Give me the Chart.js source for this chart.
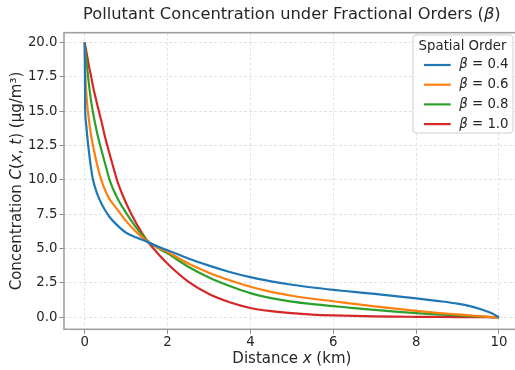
<!DOCTYPE html>
<html>
<head>
<meta charset="utf-8">
<script src="https://cdn.jsdelivr.net/npm/chart.js@4.4.1/dist/chart.umd.min.js"></script>
<style>
html,body{margin:0;padding:0;background:#fff;overflow:hidden;width:515px;height:370px;}
canvas{display:block;}
</style>
</head>
<body>
<canvas id="c" width="525" height="370" style="width:525px;height:370px"></canvas>
<script>
// ---- data ----
const distances = [0, 0.01, 0.03, 0.06, 0.1, 0.15, 0.2, 0.3, 0.4, 0.5, 0.6, 0.8, 1.0, 1.25, 1.5, 1.75, 2.0, 2.5, 3.0, 3.5, 4.0, 4.5, 5.0, 5.5, 6.0, 6.5, 7.0, 7.5, 8.0, 8.5, 9.0, 9.3, 9.6, 9.8, 9.9, 10];
const beta04 = [20, 15.3, 14.2, 13.2, 12.1, 10.9, 10.0, 9.0, 8.3, 7.75, 7.3, 6.65, 6.15, 5.8, 5.5, 5.17, 4.88, 4.28, 3.76, 3.3, 2.92, 2.62, 2.37, 2.17, 2.0, 1.85, 1.7, 1.54, 1.38, 1.2, 1.0, 0.82, 0.55, 0.33, 0.18, 0];
const beta06 = [20, 18.3, 16.8, 15.5, 14.4, 13.3, 12.5, 11.1, 10.0, 9.2, 8.6, 7.8, 7.0, 6.2, 5.55, 5.12, 4.75, 3.92, 3.25, 2.7, 2.22, 1.85, 1.57, 1.35, 1.17, 0.98, 0.8, 0.63, 0.47, 0.33, 0.21, 0.14, 0.07, 0.03, 0.015, 0];
const beta08 = [20, 19.6, 19.0, 18.1, 17.0, 15.8, 14.9, 13.4, 12.2, 11.1, 10.0, 8.6, 7.6, 6.5, 5.6, 5.08, 4.65, 3.68, 2.9, 2.28, 1.76, 1.4, 1.14, 0.96, 0.82, 0.67, 0.54, 0.42, 0.31, 0.22, 0.14, 0.09, 0.05, 0.02, 0.01, 0];
const beta10 = [20, 19.8, 19.5, 19.0, 18.3, 17.6, 16.8, 15.5, 14.3, 13.0, 11.9, 9.8, 8.3, 6.8, 5.6, 4.7, 3.9, 2.6, 1.7, 1.1, 0.68, 0.45, 0.3, 0.2, 0.14, 0.1, 0.07, 0.05, 0.04, 0.03, 0.02, 0.015, 0.01, 0.005, 0.002, 0];
const betaLabels = ['0.4', '0.6', '0.8', '1.0'];
const seriesColors = ['#1f77b4', '#ff7f0e', '#2ca02c', '#d62728'];
const xTicks = [0, 2, 4, 6, 8, 10];
const yTicks = [0, 2.5, 5, 7.5, 10, 12.5, 15, 17.5, 20];

const FONT = '"DejaVu Sans", "Liberation Sans", sans-serif';

function segFont(size, it) { return (it ? 'italic ' : '') + size + 'px ' + FONT; }
function drawRich(ctx, segs, x, y, size, align, rot, color) {
  ctx.save();
  ctx.translate(x, y);
  if (rot) ctx.rotate(rot);
  ctx.fillStyle = color || '#262626';
  ctx.textBaseline = 'middle';
  ctx.textAlign = 'left';
  let total = 0;
  const widths = segs.map(s => { ctx.font = segFont(size, s.it); const w = ctx.measureText(s.t).width; total += w; return w; });
  let cx = align === 'center' ? -total / 2 : (align === 'right' ? -total : 0);
  segs.forEach((s, i) => { ctx.font = segFont(size, s.it); ctx.fillText(s.t, cx, 0); cx += widths[i]; });
  ctx.restore();
  return total;
}

const series = [beta04, beta06, beta08, beta10];
const datasets = series.map((vals, i) => ({
  label: 'β = ' + betaLabels[i],
  data: distances.map((d, j) => ({x: d, y: vals[j]})),
  borderColor: seriesColors[i],
  backgroundColor: seriesColors[i],
  borderWidth: 2.2,
  pointRadius: 0,
  fill: false,
  cubicInterpolationMode: 'monotone'
}));

const decor = {
  id: 'decor',
  afterDatasetsDraw(chart) {
    const ctx = chart.ctx, a = chart.chartArea;
    ctx.save();
    ctx.strokeStyle = '#a0a0a0';
    ctx.lineWidth = 1.6;
    ctx.strokeRect(a.left, a.top, a.right - a.left, a.bottom - a.top);
    ctx.restore();
    drawRich(ctx, [{t: 'Pollutant Concentration under Fractional Orders (', it: false}, {t: 'β', it: true}, {t: ')', it: false}],
      (a.left + a.right) / 2, 15, 16.3, 'center', 0);
    drawRich(ctx, [{t: 'Distance ', it: false}, {t: 'x', it: true}, {t: ' (km)', it: false}],
      (a.left + a.right) / 2, 359, 15, 'center', 0);
    drawRich(ctx, [{t: 'Concentration ', it: false}, {t: 'C', it: true}, {t: '(', it: false}, {t: 'x', it: true}, {t: ', ', it: false}, {t: 't', it: true}, {t: ') (μg/m³)', it: false}],
      17, (a.top + a.bottom) / 2, 15, 'center', -Math.PI / 2);
    const lx = 413, ly = 35, lw = 100, lh = 98;
    ctx.save();
    ctx.beginPath();
    if (ctx.roundRect) ctx.roundRect(lx, ly, lw, lh, 3); else ctx.rect(lx, ly, lw, lh);
    ctx.fillStyle = 'rgba(255,255,255,0.85)';
    ctx.fill();
    ctx.strokeStyle = '#d0d0d0';
    ctx.lineWidth = 1;
    ctx.stroke();
    ctx.restore();
    drawRich(ctx, [{t: 'Spatial Order', it: false}], lx + 49.5, 46.5, 13.3, 'center', 0);
    chart.data.datasets.forEach((ds, i) => {
      const yy = 65 + i * 19.7;
      ctx.save();
      ctx.strokeStyle = ds.borderColor;
      ctx.lineWidth = 2.2;
      ctx.beginPath();
      ctx.moveTo(424, yy);
      ctx.lineTo(450.7, yy);
      ctx.stroke();
      ctx.restore();
      const parts = ds.label.split(' = ');
      drawRich(ctx, [{t: 'β', it: true}, {t: ' = ' + parts[1], it: false}], 459.3, yy, 13.3, 'left', 0);
    });
  }
};

new Chart(document.getElementById('c'), {
  type: 'line',
  data: {datasets},
  options: {
    responsive: false,
    animation: false,
    events: [],
    layout: {padding: {top: 32.7, left: 0, right: 5.3, bottom: 0}},
    plugins: {legend: {display: false}, title: {display: false}, tooltip: {enabled: false}},
    scales: {
      x: {
        type: 'linear', min: -0.5, max: 10.5,
        afterFit(s) { s.height = 40.7; },
        afterBuildTicks(s) { s.ticks = xTicks.map(v => ({value: v})); },
        grid: {color: '#dcdcdc', lineWidth: 0.8, drawTicks: true, tickLength: 4.5, tickColor: '#8a8a8a', tickWidth: 1, tickBorderDash: []},
        border: {display: false, dash: [3, 2]},
        ticks: {color: '#262626', font: {family: FONT, size: 13.3}, padding: 1, maxRotation: 0, callback: v => String(v)}
      },
      y: {
        type: 'linear', min: -0.87, max: 20.7,
        afterFit(s) { s.width = 64; },
        afterBuildTicks(s) { s.ticks = yTicks.map(v => ({value: v})); },
        grid: {color: '#dcdcdc', lineWidth: 0.8, drawTicks: true, tickLength: 4.5, tickColor: '#8a8a8a', tickWidth: 1, tickBorderDash: []},
        border: {display: false, dash: [3, 2]},
        ticks: {color: '#262626', font: {family: FONT, size: 13.3}, padding: 2, callback: v => Number(v).toFixed(1)}
      }
    }
  },
  plugins: [decor]
});
</script>
</body>
</html>
